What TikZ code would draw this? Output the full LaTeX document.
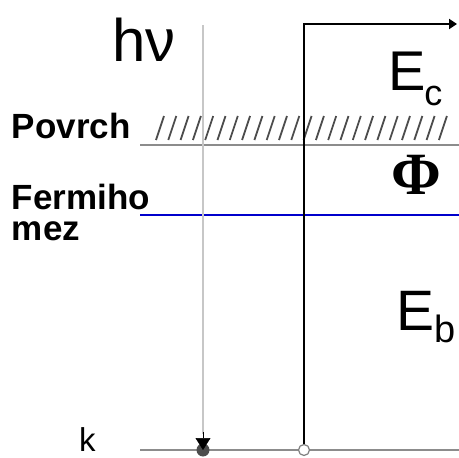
\documentclass[tikz,border=0pt]{standalone}
\usepackage[no-math]{fontspec}
\setmainfont{Liberation Sans}
\newfontfamily\serifbold{Liberation Serif}
\usetikzlibrary{arrows.meta}
\begin{document}
\begin{tikzpicture}[x=1pt,y=-1pt,
  lbl/.style={inner sep=0pt,outer sep=0pt,anchor=base west},
  grayline/.style={draw=black!45,line width=2pt},
  vline/.style={draw=black!22,line width=2.5pt},
  hatch/.style={draw=black!70,line width=1.8pt}]
\useasboundingbox (0,0) rectangle (459,458);
% horizontal levels
\coordinate (sL) at (140,145); \coordinate (sR) at (459,145);
\coordinate (fL) at (140,215); \coordinate (fR) at (459,215);
\coordinate (kL) at (140,450); \coordinate (kR) at (459,450);
\draw[grayline] (sL) -- (sR);
\draw[draw=blue!80!black,line width=2.5pt] (fL) -- (fR);
\draw[grayline] (kL) -- (kR);
% hatching
\foreach \i in {0,...,23}{
  \draw[hatch] ({156+\i*12.3},140) -- ({164+\i*12.3},116);
}
% photon line
\coordinate (ptop) at (203,25);
\node[circle,fill=black!70,inner sep=0pt,minimum size=13pt] (dot) at (203,450) {};
\draw[vline] (ptop) -- (203,434);
\draw[line width=0.5pt,-{Triangle[length=12pt,width=15pt]},fill=black] (203,432) -- (dot.center);
% electron line
\node[circle,draw=black!50,fill=white,line width=1.2pt,inner sep=0pt,minimum size=11pt] (oc) at (304,450) {};
\coordinate (corner) at (304,24);
\coordinate (aend) at (457,24);
\draw[line width=2pt,-{Triangle[length=8pt,width=10pt]}] (oc.north) -- (corner) -- (aend);
% labels
\node[lbl] (hv) at (112,61) {\fontsize{60}{60}\selectfont hν};
\node[lbl] (povrch) at (12,138) {\fontsize{35}{35}\selectfont\bfseries Povrch};
\node[lbl] (fermi) at (12,209) {\fontsize{35}{35}\selectfont\bfseries Fermiho};
\node[lbl] (mez) at (12,240) {\fontsize{35}{35}\selectfont\bfseries mez};
\node[lbl] (ec) at (388,90) {\fontsize{56}{56}\selectfont E\kern-1pt\raisebox{-15pt}{\fontsize{36}{36}\selectfont c}};
\node[inner sep=0pt] (phi) at (416,175) {\fontsize{60}{60}\selectfont\serifbold\bfseries Φ};
\node[lbl] (eb) at (396,330) {\fontsize{57}{57}\selectfont E\raisebox{-12pt}{\fontsize{38}{38}\selectfont b}};
\node[lbl] (k) at (79,451) {\fontsize{33}{33}\selectfont k};
\end{tikzpicture}
\end{document}
